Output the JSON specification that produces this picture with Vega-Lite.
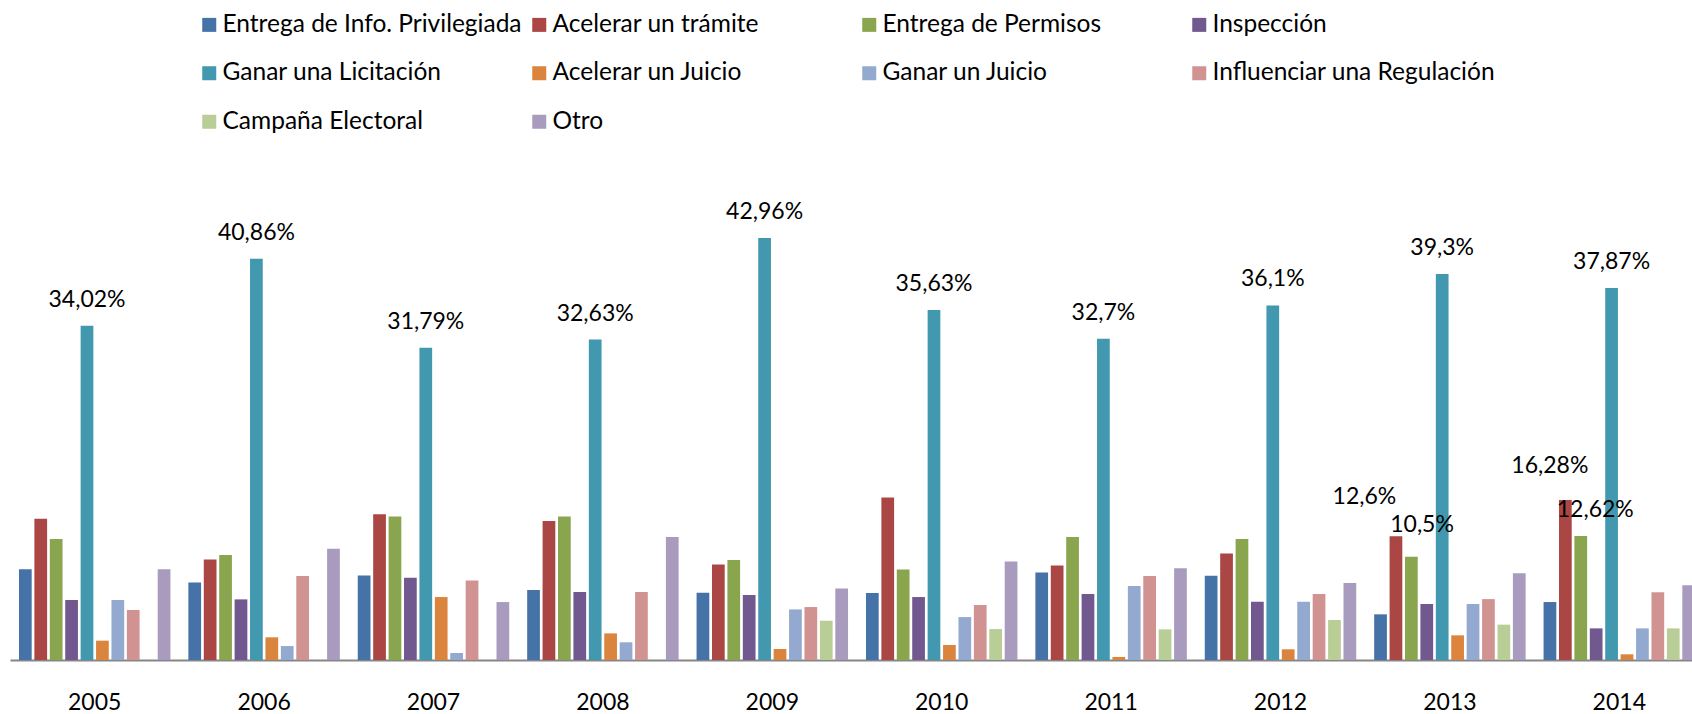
{
  "$schema": "https://vega.github.io/schema/vega-lite/v6.json",
  "autosize": {"type": "none"},
  "width": 1682,
  "height": 442,
  "padding": {"left": 10, "top": 218, "right": 0, "bottom": 54},
  "background": "white",
  "config": {"font": "Lato", "view": {"stroke": null}},
  "data": {"values": [
    {"year":"2005","cat":"Entrega de Info. Privilegiada","v":9.23},
    {"year":"2005","cat":"Acelerar un trámite","v":14.39},
    {"year":"2005","cat":"Entrega de Permisos","v":12.32},
    {"year":"2005","cat":"Inspección","v":6.11},
    {"year":"2005","cat":"Ganar una Licitación","v":34.02,"lbl":"34,02%"},
    {"year":"2005","cat":"Acelerar un Juicio","v":1.97},
    {"year":"2005","cat":"Ganar un Juicio","v":6.11},
    {"year":"2005","cat":"Influenciar una Regulación","v":5.09},
    {"year":"2005","cat":"Otro","v":9.23},
    {"year":"2006","cat":"Entrega de Info. Privilegiada","v":7.9},
    {"year":"2006","cat":"Acelerar un trámite","v":10.24},
    {"year":"2006","cat":"Entrega de Permisos","v":10.68},
    {"year":"2006","cat":"Inspección","v":6.17},
    {"year":"2006","cat":"Ganar una Licitación","v":40.86,"lbl":"40,86%"},
    {"year":"2006","cat":"Acelerar un Juicio","v":2.31},
    {"year":"2006","cat":"Ganar un Juicio","v":1.42},
    {"year":"2006","cat":"Influenciar una Regulación","v":8.55},
    {"year":"2006","cat":"Otro","v":11.32},
    {"year":"2007","cat":"Entrega de Info. Privilegiada","v":8.61},
    {"year":"2007","cat":"Acelerar un trámite","v":14.85},
    {"year":"2007","cat":"Entrega de Permisos","v":14.61},
    {"year":"2007","cat":"Inspección","v":8.37},
    {"year":"2007","cat":"Ganar una Licitación","v":31.79,"lbl":"31,79%"},
    {"year":"2007","cat":"Acelerar un Juicio","v":6.41},
    {"year":"2007","cat":"Ganar un Juicio","v":0.71},
    {"year":"2007","cat":"Influenciar una Regulación","v":8.1},
    {"year":"2007","cat":"Otro","v":5.9},
    {"year":"2008","cat":"Entrega de Info. Privilegiada","v":7.12},
    {"year":"2008","cat":"Acelerar un trámite","v":14.14},
    {"year":"2008","cat":"Entrega de Permisos","v":14.61},
    {"year":"2008","cat":"Inspección","v":6.92},
    {"year":"2008","cat":"Ganar una Licitación","v":32.63,"lbl":"32,63%"},
    {"year":"2008","cat":"Acelerar un Juicio","v":2.71},
    {"year":"2008","cat":"Ganar un Juicio","v":1.8},
    {"year":"2008","cat":"Influenciar una Regulación","v":6.92},
    {"year":"2008","cat":"Otro","v":12.51},
    {"year":"2009","cat":"Entrega de Info. Privilegiada","v":6.85},
    {"year":"2009","cat":"Acelerar un trámite","v":9.73},
    {"year":"2009","cat":"Entrega de Permisos","v":10.17},
    {"year":"2009","cat":"Inspección","v":6.61},
    {"year":"2009","cat":"Ganar una Licitación","v":42.96,"lbl":"42,96%"},
    {"year":"2009","cat":"Acelerar un Juicio","v":1.12},
    {"year":"2009","cat":"Ganar un Juicio","v":5.15},
    {"year":"2009","cat":"Influenciar una Regulación","v":5.39},
    {"year":"2009","cat":"Campaña Electoral","v":4.0},
    {"year":"2009","cat":"Otro","v":7.29},
    {"year":"2010","cat":"Entrega de Info. Privilegiada","v":6.82},
    {"year":"2010","cat":"Acelerar un trámite","v":16.55},
    {"year":"2010","cat":"Entrega de Permisos","v":9.22},
    {"year":"2010","cat":"Inspección","v":6.41},
    {"year":"2010","cat":"Ganar una Licitación","v":35.63,"lbl":"35,63%"},
    {"year":"2010","cat":"Acelerar un Juicio","v":1.53},
    {"year":"2010","cat":"Ganar un Juicio","v":4.37},
    {"year":"2010","cat":"Influenciar una Regulación","v":5.6},
    {"year":"2010","cat":"Campaña Electoral","v":3.15},
    {"year":"2010","cat":"Otro","v":10.04},
    {"year":"2011","cat":"Entrega de Info. Privilegiada","v":8.92},
    {"year":"2011","cat":"Acelerar un trámite","v":9.63},
    {"year":"2011","cat":"Entrega de Permisos","v":12.51},
    {"year":"2011","cat":"Inspección","v":6.71},
    {"year":"2011","cat":"Ganar una Licitación","v":32.7,"lbl":"32,7%"},
    {"year":"2011","cat":"Acelerar un Juicio","v":0.31},
    {"year":"2011","cat":"Ganar un Juicio","v":7.53},
    {"year":"2011","cat":"Influenciar una Regulación","v":8.55},
    {"year":"2011","cat":"Campaña Electoral","v":3.12},
    {"year":"2011","cat":"Otro","v":9.33},
    {"year":"2012","cat":"Entrega de Info. Privilegiada","v":8.58},
    {"year":"2012","cat":"Acelerar un trámite","v":10.85},
    {"year":"2012","cat":"Entrega de Permisos","v":12.31},
    {"year":"2012","cat":"Inspección","v":5.93},
    {"year":"2012","cat":"Ganar una Licitación","v":36.1,"lbl":"36,1%"},
    {"year":"2012","cat":"Acelerar un Juicio","v":1.09},
    {"year":"2012","cat":"Ganar un Juicio","v":5.93},
    {"year":"2012","cat":"Influenciar una Regulación","v":6.71},
    {"year":"2012","cat":"Campaña Electoral","v":4.07},
    {"year":"2012","cat":"Otro","v":7.83},
    {"year":"2013","cat":"Entrega de Info. Privilegiada","v":4.65},
    {"year":"2013","cat":"Acelerar un trámite","v":12.6,"lbl":"12,6%"},
    {"year":"2013","cat":"Entrega de Permisos","v":10.5,"lbl":"10,5%"},
    {"year":"2013","cat":"Inspección","v":5.7},
    {"year":"2013","cat":"Ganar una Licitación","v":39.3,"lbl":"39,3%"},
    {"year":"2013","cat":"Acelerar un Juicio","v":2.51},
    {"year":"2013","cat":"Ganar un Juicio","v":5.7},
    {"year":"2013","cat":"Influenciar una Regulación","v":6.2},
    {"year":"2013","cat":"Campaña Electoral","v":3.6},
    {"year":"2013","cat":"Otro","v":8.82},
    {"year":"2014","cat":"Entrega de Info. Privilegiada","v":5.9},
    {"year":"2014","cat":"Acelerar un trámite","v":16.28,"lbl":"16,28%"},
    {"year":"2014","cat":"Entrega de Permisos","v":12.62,"lbl":"12,62%"},
    {"year":"2014","cat":"Inspección","v":3.22},
    {"year":"2014","cat":"Ganar una Licitación","v":37.87,"lbl":"37,87%"},
    {"year":"2014","cat":"Acelerar un Juicio","v":0.58},
    {"year":"2014","cat":"Ganar un Juicio","v":3.22},
    {"year":"2014","cat":"Influenciar una Regulación","v":6.89},
    {"year":"2014","cat":"Campaña Electoral","v":3.22},
    {"year":"2014","cat":"Otro","v":7.6}
  ]},
  "encoding": {
    "x": {
      "field": "year", "type": "nominal",
      "scale": {"range": [0, 1694], "paddingInner": 0.09, "paddingOuter": 0.045},
      "axis": {"title": null, "labelAngle": 0, "labelFont": "Lato", "labelFontSize": 23, "labelColor": "#000000",
               "labelPadding": 31, "ticks": false, "domainColor": "#868686", "domainWidth": 2, "grid": false}
    },
    "xOffset": {
      "field": "cat", "type": "nominal",
      "scale": {"domain": ["Entrega de Info. Privilegiada","Acelerar un trámite","Entrega de Permisos","Inspección","Ganar una Licitación","Acelerar un Juicio","Ganar un Juicio","Influenciar una Regulación","Campaña Electoral","Otro"],
                "paddingInner": 0.175, "paddingOuter": 0.0875}
    },
    "y": {
      "field": "v", "type": "quantitative",
      "scale": {"domain": [0, 45], "nice": false, "zero": true},
      "axis": null
    }
  },
  "layer": [
    {
      "mark": {"type": "bar"},
      "encoding": {
        "color": {
          "field": "cat", "type": "nominal",
          "scale": {
            "domain": ["Entrega de Info. Privilegiada","Acelerar un trámite","Entrega de Permisos","Inspección","Ganar una Licitación","Acelerar un Juicio","Ganar un Juicio","Influenciar una Regulación","Campaña Electoral","Otro"],
            "range": ["#4572A7","#AA4643","#89A54E","#71588F","#4198AF","#DB843D","#93A9CF","#D19392","#B9CD96","#A99BBD"]
          },
          "legend": {
            "title": null, "orient": "none", "legendX": 187, "legendY": -205.5,
            "columns": 4, "direction": "horizontal", "gridAlign": "all",
            "symbolType": "square", "symbolSize": 196, "symbolStrokeWidth": 0, "symbolOpacity": 1,
            "labelFont": "Lato", "labelFontSize": 24.5, "labelColor": "#000000", "labelOffset": 1,
            "labelLimit": 400, "rowPadding": 23.5, "columnPadding": 5
          }
        }
      }
    },
    {
      "transform": [{"filter": "datum.cat == 'Ganar una Licitación'"}],
      "mark": {"type": "text", "baseline": "alphabetic", "align": "center", "dy": -19, "fontSize": 23, "font": "Lato", "color": "#000000"},
      "encoding": {"text": {"field": "lbl"}}
    },
    {
      "transform": [{"filter": "datum.year == '2013' && datum.cat == 'Acelerar un trámite'"}],
      "mark": {"type": "text", "baseline": "alphabetic", "align": "center", "dx": -31.5, "dy": -32.3, "fontSize": 23, "font": "Lato", "color": "#000000"},
      "encoding": {"text": {"field": "lbl"}}
    },
    {
      "transform": [{"filter": "datum.year == '2013' && datum.cat == 'Entrega de Permisos'"}],
      "mark": {"type": "text", "baseline": "alphabetic", "align": "center", "dx": 10.7, "dy": -24.7, "fontSize": 23, "font": "Lato", "color": "#000000"},
      "encoding": {"text": {"field": "lbl"}}
    },
    {
      "transform": [{"filter": "datum.year == '2014' && datum.cat == 'Acelerar un trámite'"}],
      "mark": {"type": "text", "baseline": "alphabetic", "align": "center", "dx": -15.5, "dy": -27.3, "fontSize": 23, "font": "Lato", "color": "#000000"},
      "encoding": {"text": {"field": "lbl"}}
    },
    {
      "transform": [{"filter": "datum.year == '2014' && datum.cat == 'Entrega de Permisos'"}],
      "mark": {"type": "text", "baseline": "alphabetic", "align": "center", "dx": 14.5, "dy": -18.7, "fontSize": 23, "font": "Lato", "color": "#000000"},
      "encoding": {"text": {"field": "lbl"}}
    }
  ]
}
